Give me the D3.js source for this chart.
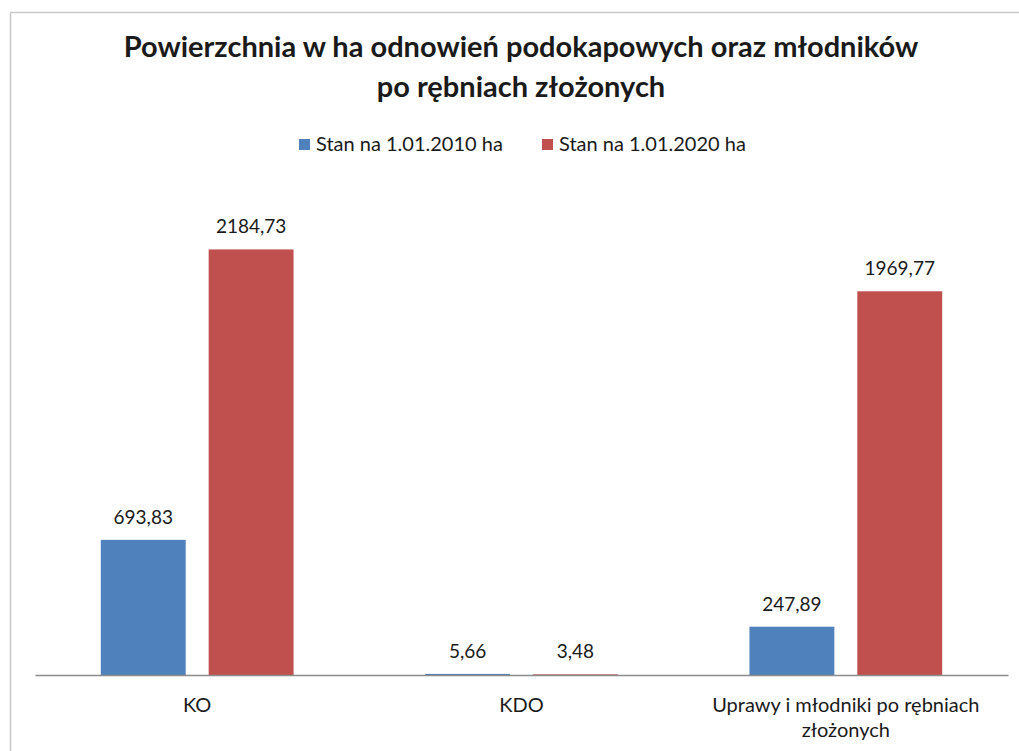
<!DOCTYPE html>
<html>
<head>
<meta charset="utf-8">
<script src="https://cdn.jsdelivr.net/npm/d3@7"></script>
<style>
  html, body { margin: 0; padding: 0; background: #fff; }
  svg { display: block; }
  text { font-family: Lato, "Open Sans", sans-serif; fill: #1a1a1a; }
</style>
</head>
<body>
<svg id="chart" width="1019" height="751"></svg>
<script>
// Category and series data
const categories = ["KO", "KDO", "Uprawy i młodniki po rębniach złożonych"];
const categoryLines = [["KO"], ["KDO"], ["Uprawy i młodniki po rębniach", "złożonych"]];
const seriesNames = ["Stan na 1.01.2010 ha", "Stan na 1.01.2020 ha"];
const values2010 = [693.83, 5.66, 247.89];
const values2020 = [2184.73, 3.48, 1969.77];
const valueLabels2010 = ["693,83", "5,66", "247,89"];
const valueLabels2020 = ["2184,73", "3,48", "1969,77"];
const colors = ["#4F81BD", "#C0504D"];
const titleLines = ["Powierzchnia w ha odnowień podokapowych oraz młodników", "po rębniach złożonych"];

const svg = d3.select("#chart");

// outer frame
svg.append("path")
  .attr("d", "M10.5,751 V12.5 H1019")
  .attr("fill", "none")
  .attr("stroke", "#c8c8c8")
  .attr("stroke-width", 1.5);

const plot = { left: 35, right: 1008, top: 188, bottom: 675 };

const x0 = d3.scaleBand()
  .domain(categories)
  .range([plot.left, plot.right]);

const x1 = d3.scaleBand()
  .domain([0, 1])
  .range([0, x0.bandwidth()])
  .paddingInner(0.213)
  .paddingOuter(0.61);

const y = d3.scaleLinear()
  .domain([0, 2500])
  .range([plot.bottom, plot.top]);

const rows = categories.map((c, i) => ({
  cat: c,
  vals: [
    { s: 0, v: values2010[i], label: valueLabels2010[i] },
    { s: 1, v: values2020[i], label: valueLabels2020[i] }
  ]
}));

const groups = svg.append("g").selectAll("g")
  .data(rows).join("g")
  .attr("transform", d => `translate(${x0(d.cat)},0)`);

groups.selectAll("rect")
  .data(d => d.vals).join("rect")
  .attr("x", d => x1(d.s))
  .attr("width", x1.bandwidth())
  .attr("y", d => y(d.v))
  .attr("height", d => y(0) - y(d.v))
  .attr("fill", d => colors[d.s]);

groups.selectAll("text.val")
  .data(d => d.vals).join("text")
  .attr("class", "val")
  .attr("x", d => x1(d.s) + x1.bandwidth() / 2)
  .attr("y", d => y(d.v) - 16)
  .attr("text-anchor", "middle")
  .attr("font-size", 19)
  .text(d => d.label);

// category axis
const xAxis = svg.append("g")
  .attr("transform", `translate(0,${plot.bottom})`)
  .call(d3.axisBottom(x0).tickSize(0).tickFormat(""));
xAxis.select(".domain").attr("stroke", "#8c8c8c").attr("stroke-width", 1.5);

xAxis.selectAll(".tick").each(function(d, i) {
  const t = d3.select(this).append("text")
    .attr("text-anchor", "middle")
    .attr("font-size", 20)
    .attr("fill", "#1a1a1a");
  categoryLines[i].forEach((line, j) => {
    t.append("tspan").attr("x", 0).attr("y", 37 + j * 25).text(line);
  });
});

// title
const title = svg.append("text")
  .attr("text-anchor", "middle")
  .attr("font-size", 29)
  .attr("font-weight", "bold");
titleLines.forEach((line, j) => {
  title.append("tspan").attr("x", 521).attr("y", 57 + j * 40).text(line);
});

// legend
const legendX = [299, 542];
const legend = svg.append("g").selectAll("g")
  .data(seriesNames).join("g")
  .attr("transform", (d, i) => `translate(${legendX[i]},139)`);
legend.append("rect").attr("width", 11).attr("height", 11).attr("fill", (d, i) => colors[i]);
legend.append("text").attr("x", 17).attr("y", 12).attr("font-size", 20).text(d => d);
</script>
</body>
</html>
